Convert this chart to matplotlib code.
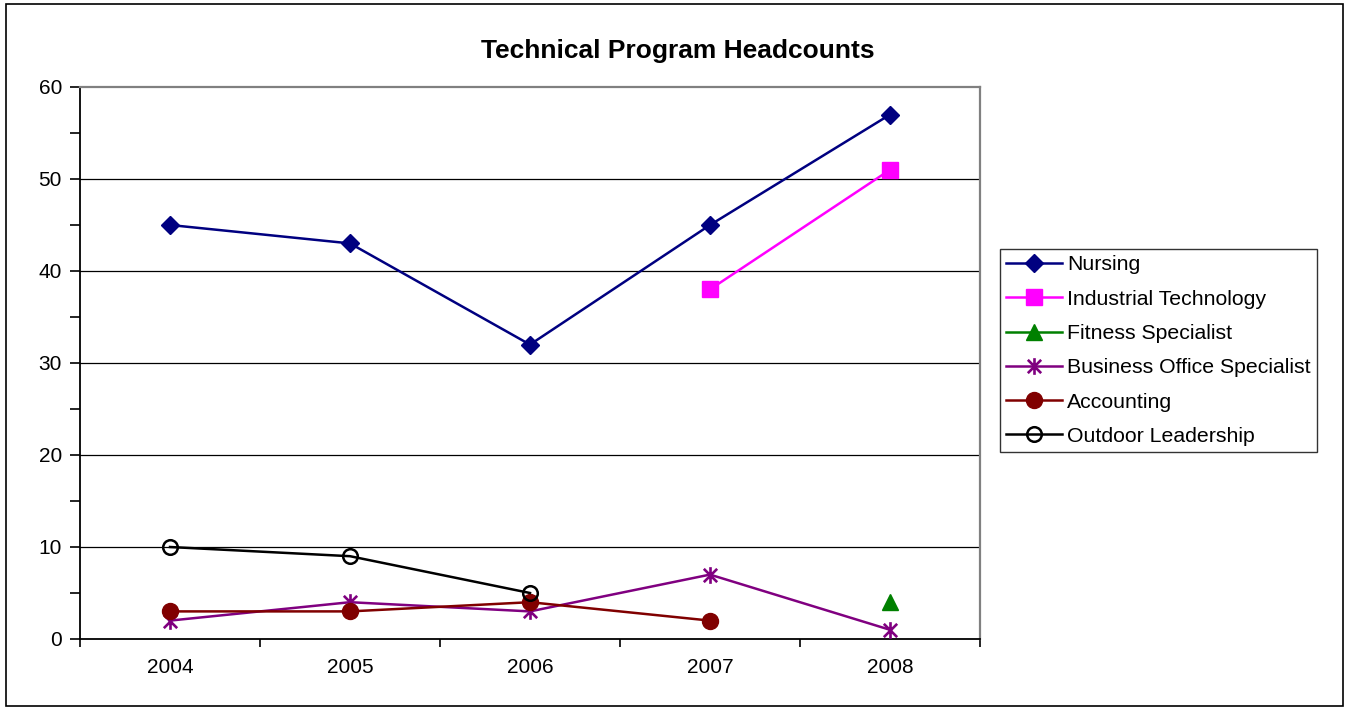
import matplotlib
matplotlib.use("Agg")
import matplotlib.pyplot as plt
import numpy as np
from matplotlib.patches import Rectangle
from matplotlib.path import Path

plt.rcParams['font.family'] = ['Liberation Sans', 'DejaVu Sans']

years = ["2004", "2005", "2006", "2007", "2008"]
nursing = [45, 43, 32, 45, 57]
industrial = [np.nan, np.nan, np.nan, 38, 51]
fitness = [np.nan, np.nan, np.nan, np.nan, 4]
business = [2, 4, 3, 7, 1]
accounting = [3, 3, 4, 2, np.nan]
outdoor = [10, 9, 5, np.nan, np.nan]

W, H = 1349, 710
fig = plt.figure(figsize=(W / 100, H / 100), dpi=100)
fig.patches.append(Rectangle((6 / W, 4 / H), (1343 - 6) / W, (706 - 4) / H,
                             transform=fig.transFigure, fill=False,
                             edgecolor='black', linewidth=1.2))

ax = fig.add_axes([80 / W, (H - 639) / H, 900 / W, 552 / H])
x = np.arange(len(years))

star = Path([(-1, -1), (1, 1), (-1, 1), (1, -1), (0, -1.25), (0, 1.25)],
            [Path.MOVETO, Path.LINETO, Path.MOVETO, Path.LINETO, Path.MOVETO, Path.LINETO])

lw = 1.8
ax.plot(x, nursing, color='#000080', marker='D', markersize=9.5, lw=lw, label='Nursing', zorder=3)
ax.plot(x, industrial, color='#FF00FF', marker='s', markersize=11, lw=lw, label='Industrial Technology', zorder=3)
ax.plot(x, fitness, color='#008000', marker='^', markersize=12, lw=lw, label='Fitness Specialist', zorder=3)
ax.plot(x, business, color='#800080', marker=star, markersize=12, mew=1.9, lw=lw, label='Business Office Specialist', zorder=3)
ax.plot(x, accounting, color='#800000', marker='o', markersize=11.5, lw=lw, label='Accounting', zorder=3)
ax.plot(x, outdoor, color='black', marker='o', markersize=10.5, mfc='none', mew=1.8, lw=lw, label='Outdoor Leadership', zorder=3)

ax.set_xlim(-0.5, 4.5)
ax.set_ylim(0, 60)
ax.set_yticks(np.arange(0, 61, 10))
ax.set_yticks(np.arange(5, 60, 10), minor=True)
ax.set_xticks(x)
ax.set_xticklabels(years)
ax.set_xticks(np.arange(-0.5, 4.6, 1), minor=True)
ax.tick_params(axis='x', which='major', length=0, labelsize=15, pad=14)
ax.tick_params(axis='x', which='minor', length=6, direction='out', width=1.2)
ax.tick_params(axis='y', which='both', length=7, direction='out', width=1.2, labelsize=15, pad=6)

for v in range(10, 60, 10):
    ax.axhline(v, color='black', lw=0.9, zorder=1)

for s in ['left', 'bottom']:
    ax.spines[s].set_color('black')
    ax.spines[s].set_linewidth(1.3)
for s in ['top', 'right']:
    ax.spines[s].set_color('#808080')
    ax.spines[s].set_linewidth(1.6)

fig.text(678 / W, 1 - 51 / H, 'Technical Program Headcounts', ha='center', va='center',
         fontsize=19, fontweight='bold')

handles, labels = ax.get_legend_handles_labels()
leg = fig.legend(handles, labels, loc='upper left',
                 bbox_to_anchor=(1000 / W, 1 - 249 / H), fontsize=15.3,
                 frameon=True, fancybox=False, edgecolor='black',
                 borderpad=0.3, labelspacing=0.72, handlelength=2.6,
                 handletextpad=0.25, borderaxespad=0)
leg.get_frame().set_linewidth(1.0)

fig.savefig('out.png', dpi=100)
